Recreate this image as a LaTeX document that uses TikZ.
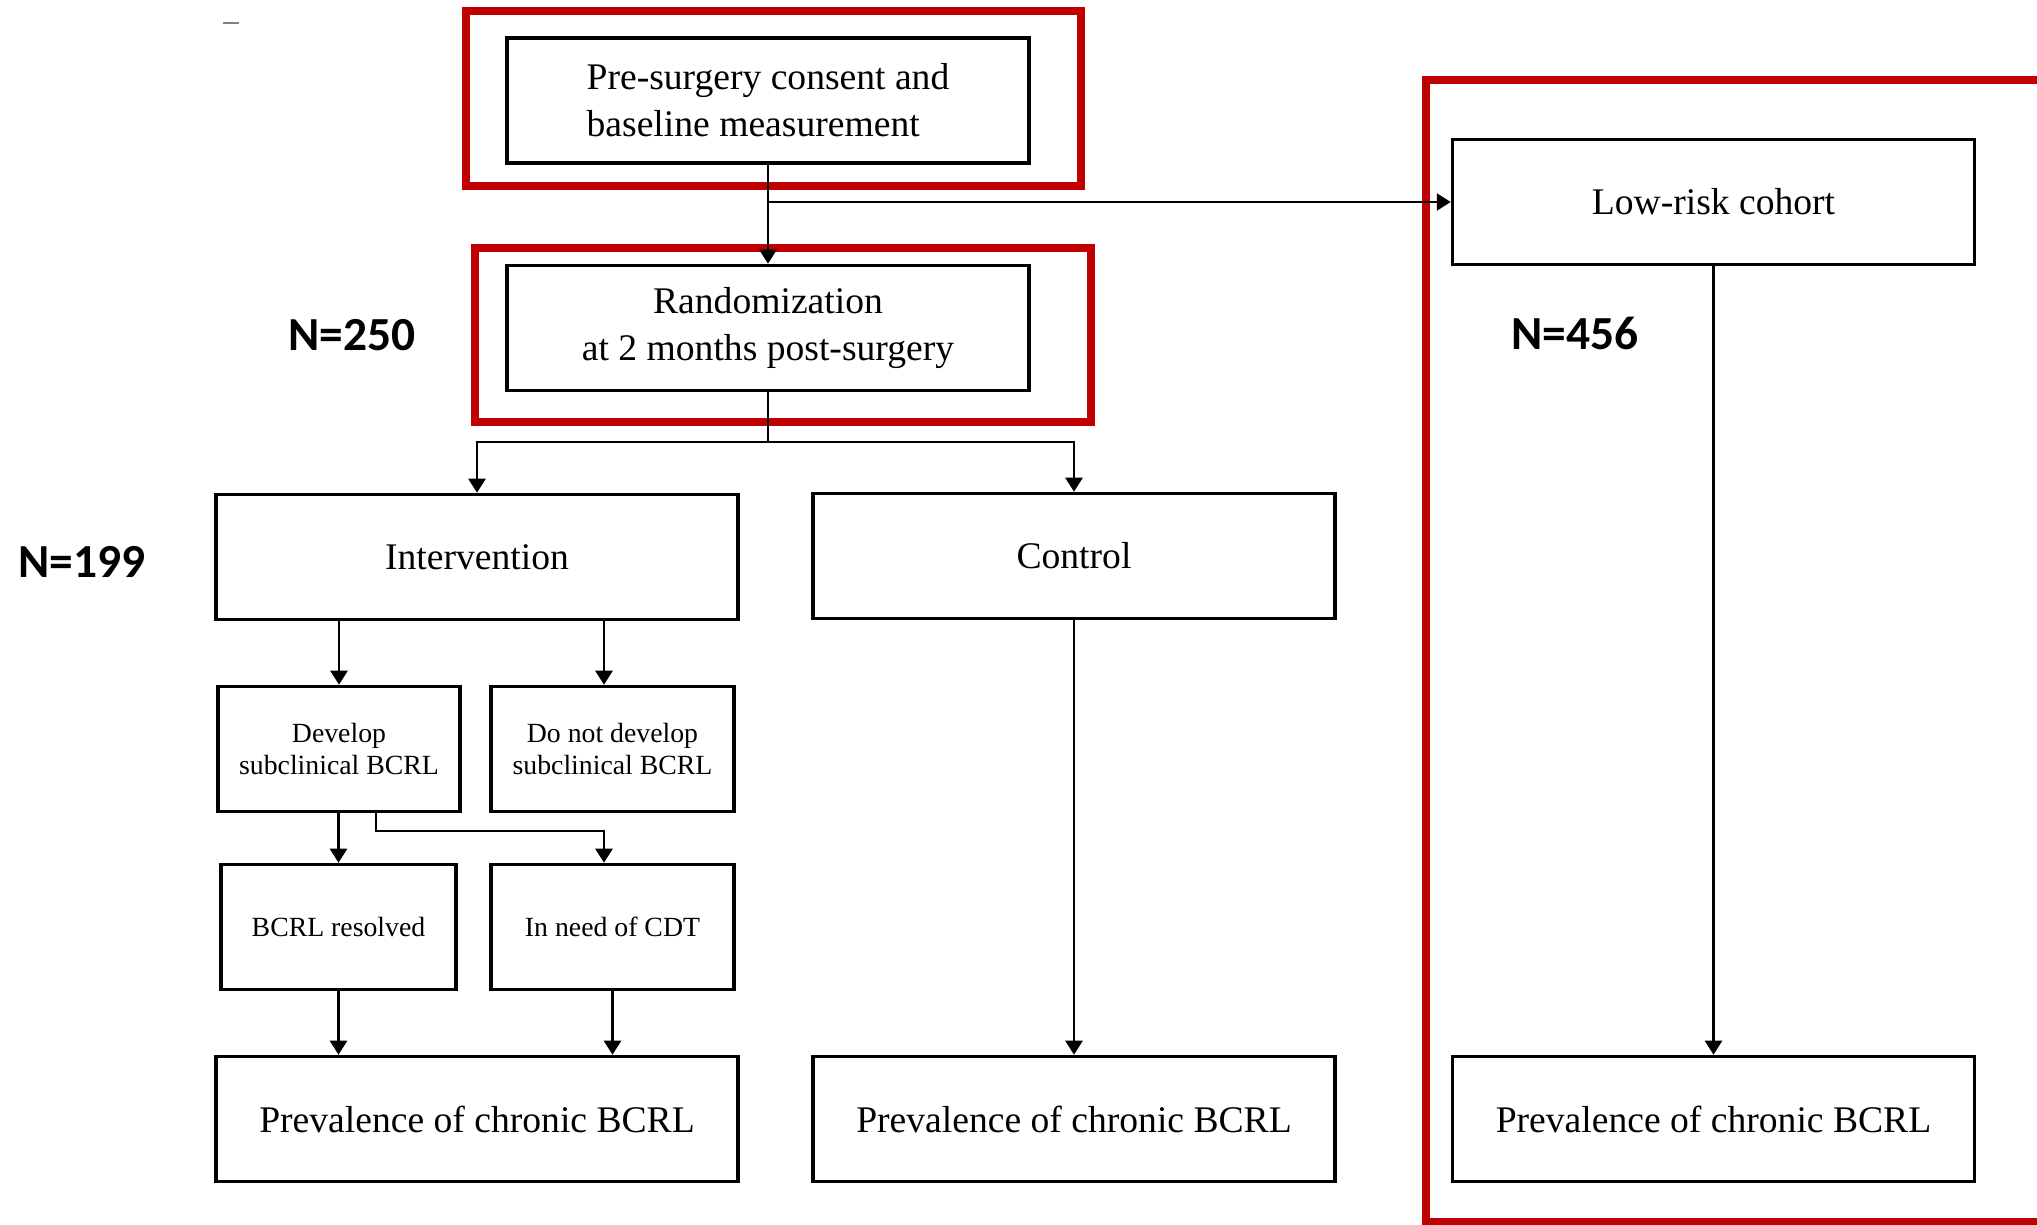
\documentclass[tikz,border=0pt]{standalone}
\usepackage{fontspec}
\setmainfont{Liberation Serif}
\newfontfamily\countfont{Carlito}
\usetikzlibrary{arrows.meta,positioning}
\definecolor{framered}{HTML}{C00000}

\tikzset{
  flowbox/.style={draw, line width=1pt, minimum width=5.22cm, minimum height=1.25cm,
    inner sep=2pt, align=center, font=\fontsize{10.7}{13.4}\selectfont},
  smallbox/.style={flowbox, minimum width=2.42cm, font=\fontsize{7.9}{9.2}\selectfont},
  redframe/.style={draw=framered, line width=2.1pt},
  flowarrow/.style={-{Triangle[length=1.4mm,width=1.7mm]}, line width=0.7pt},
  countlabel/.style={font=\countfont\bfseries\fontsize{13.5}{16}\selectfont}
}

\begin{document}
\begin{tikzpicture}
\useasboundingbox (0,0) rectangle (20.37,-12.25);
\clip (0,0) rectangle (20.37,-12.25);

% stray mark top left
\draw[gray, line width=0.6pt] (2.23,-0.23) -- (2.39,-0.23);

% red frames
\draw[redframe] (4.66,-0.11) rectangle (10.81,-1.86);
\draw[redframe] (4.75,-2.48) rectangle (10.91,-4.22);
\draw[redframe] (14.26,-0.80) rectangle (20.70,-12.22);

% boxes
\node[flowbox, align=left] (consent) at (7.68,-1.005) {Pre-surgery consent and\\baseline measurement};
\node[flowbox] (random) at (7.68,-3.28) {Randomization\\at 2 months post-surgery};
\node[flowbox] (lowrisk) at (17.135,-2.02) {Low-risk cohort};
\node[flowbox] (interv) at (4.77,-5.57) {Intervention};
\node[flowbox] (control) at (10.74,-5.56) {Control};
\node[smallbox] (develop) at (3.39,-7.49) {Develop\\subclinical BCRL};
\node[smallbox, minimum width=2.43cm] (nodevelop) at (6.125,-7.49) {Do not develop\\subclinical BCRL};
\node[smallbox, minimum width=2.35cm] (resolved) at (3.385,-9.27) {BCRL resolved};
\node[smallbox, minimum width=2.43cm] (cdt) at (6.125,-9.27) {In need of CDT};
\node[flowbox] (prevint) at (4.77,-11.19) {Prevalence of chronic BCRL};
\node[flowbox] (prevctl) at (10.74,-11.19) {Prevalence of chronic BCRL};
\node[flowbox] (prevlow) at (17.135,-11.19) {Prevalence of chronic BCRL};

% sample sizes
\node[countlabel] (n250) at (3.52,-3.35) {N=250};
\node[countlabel] (n456) at (15.75,-3.33) {N=456};
\node[countlabel] (n199) at (0.82,-5.62) {N=199};

% connectors
\draw[flowarrow] (consent) -- (random);
\draw[flowarrow] (consent.south |- lowrisk.west) -- (lowrisk.west);
\coordinate (split) at (7.68,-4.42);
\draw[line width=0.7pt] (random.south) -- (split);
\draw[flowarrow] (split) -| (interv.north);
\draw[flowarrow] (split) -| (control.north);
\draw[flowarrow] (develop.north |- interv.south) -- (develop.north);
\draw[flowarrow] ([xshift=-0.085cm]nodevelop.north |- interv.south) -- ([xshift=-0.085cm]nodevelop.north);
\draw[flowarrow] (resolved.north |- develop.south) -- (resolved.north);
\draw[flowarrow] ([xshift=0.37cm]develop.south) -- ++(0,-0.175) -| ([xshift=-0.085cm]cdt.north);
\draw[flowarrow] (resolved.south) -- (resolved.south |- prevint.north);
\draw[flowarrow] (cdt.south) -- (cdt.south |- prevint.north);
\draw[flowarrow] (control) -- (prevctl);
\draw[flowarrow] (lowrisk) -- (prevlow);
\end{tikzpicture}
\end{document}
